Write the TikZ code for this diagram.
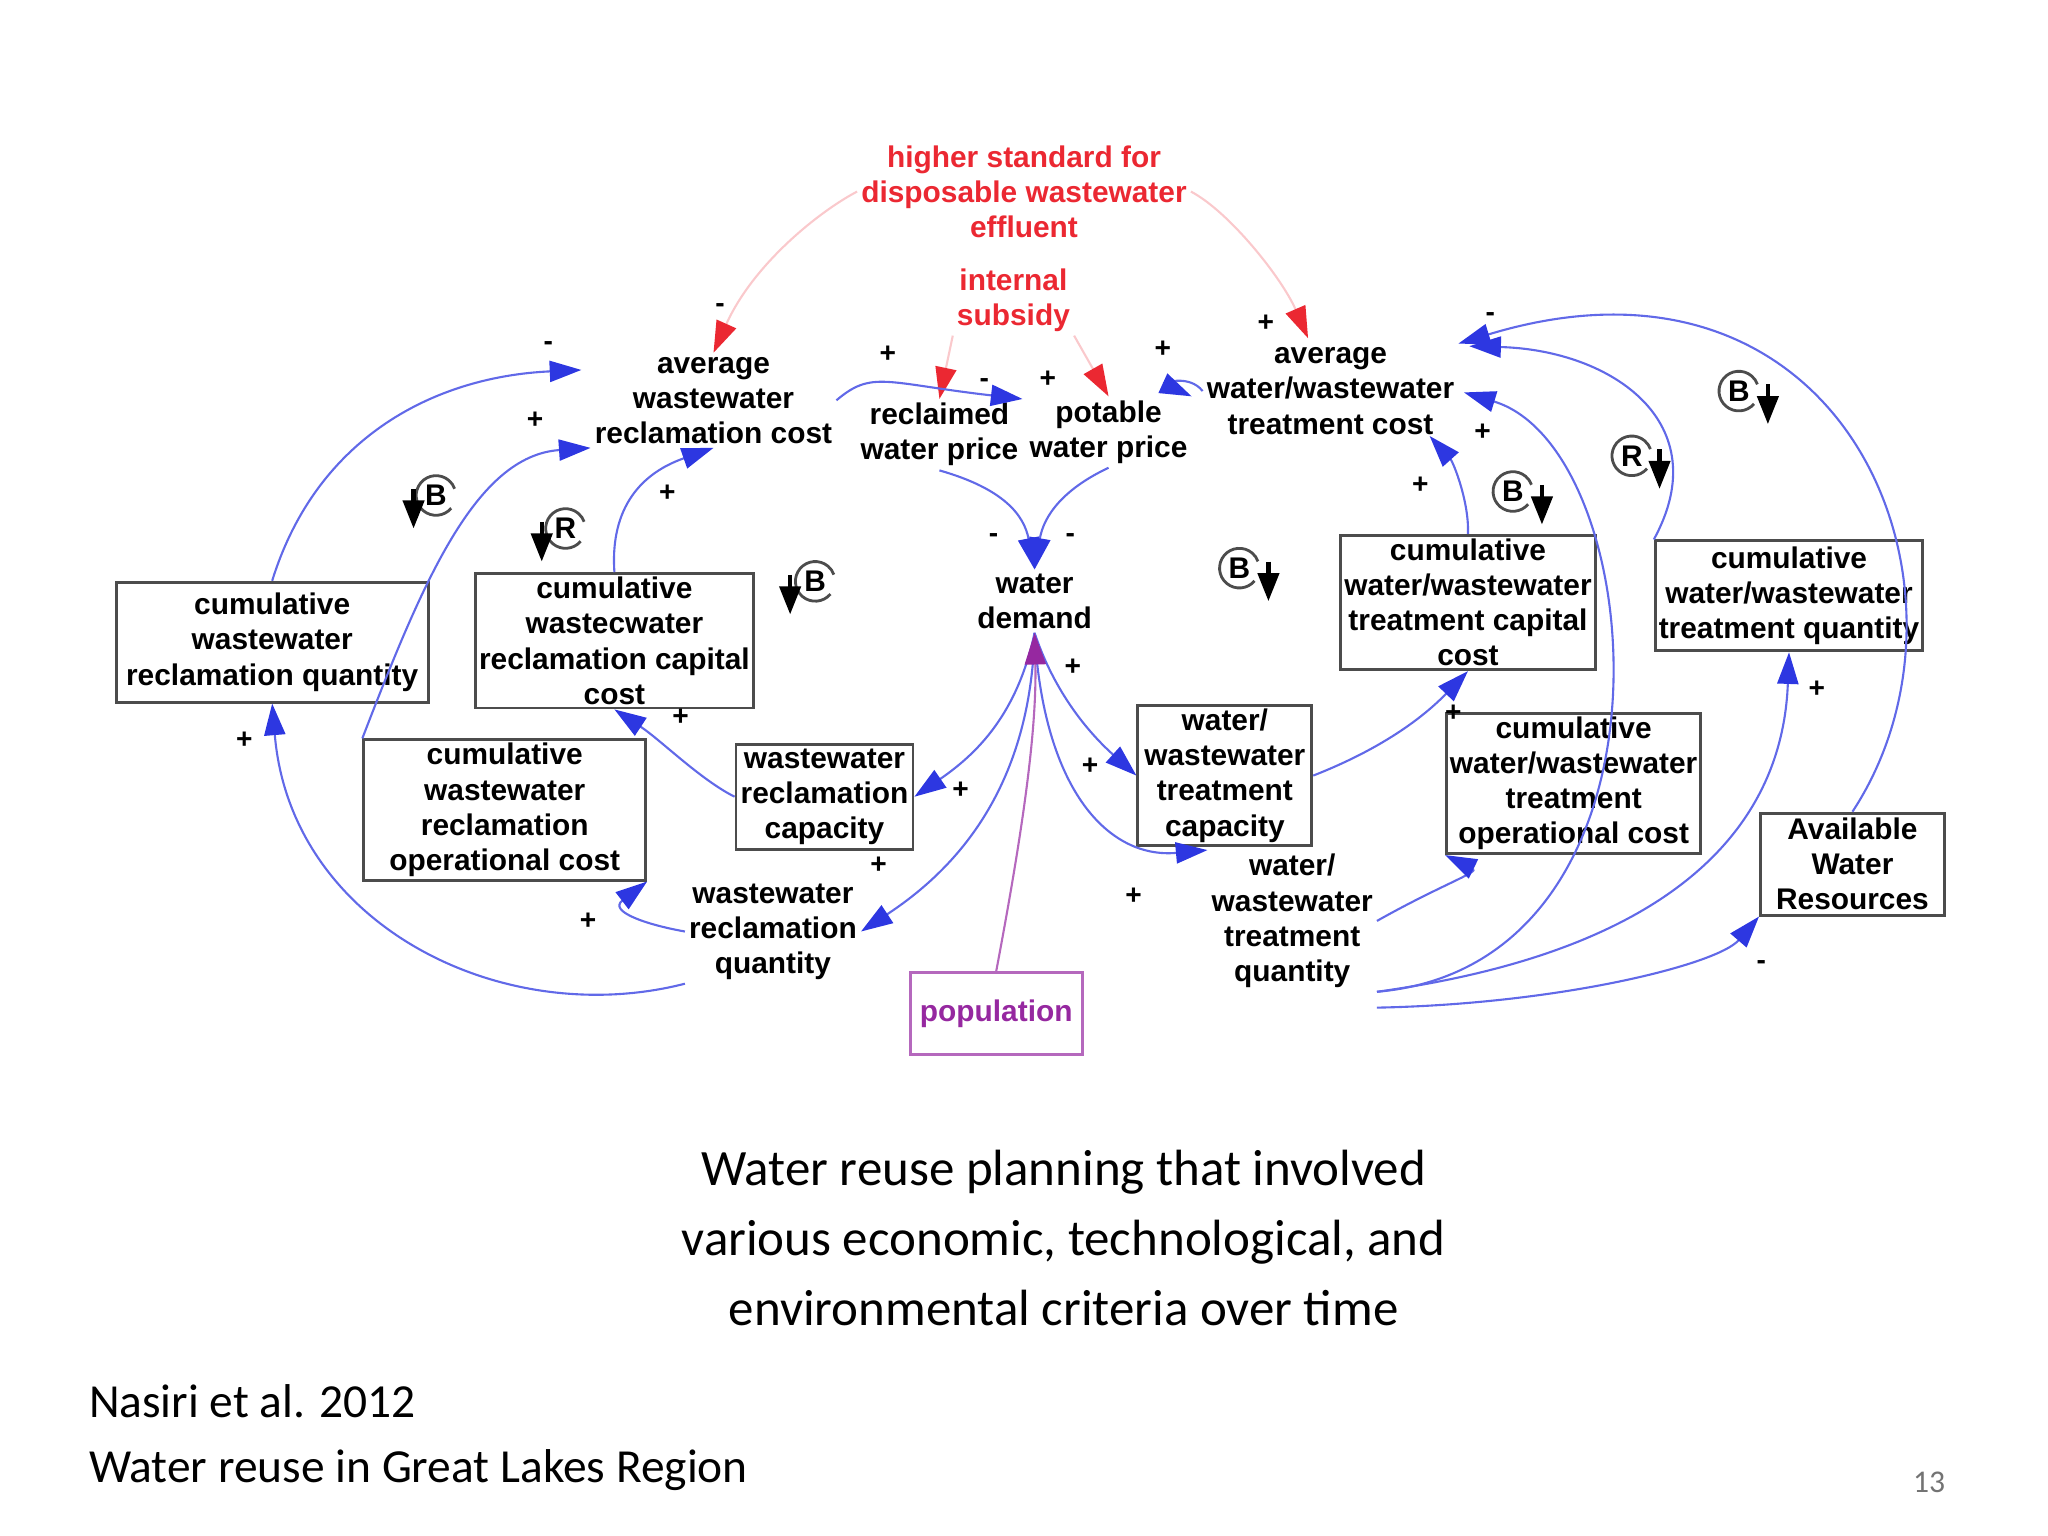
\documentclass[tikz,border=0pt]{standalone}
\usepackage{fontspec}
\setmainfont{Liberation Sans}
\newfontfamily\capfont{Carlito}
\usetikzlibrary{arrows.meta,positioning}
\definecolor{flowblue}{RGB}{45,55,225}
\definecolor{linkred}{RGB}{235,40,50}
\definecolor{popviolet}{RGB}{150,40,160}
\tikzset{%
	every box/.style={
		draw=black!70,
		thick,
		align=center,
		inner sep=1pt,
		font=\fontsize{8.5}{10}\selectfont\bfseries
	},
	var/.style={
		align=center,
		inner sep=1pt,
		font=\fontsize{8.5}{10}\selectfont\bfseries
	},
	flow/.style={
		draw=flowblue!75,
		semithick,
		-{Triangle[length=9pt,width=6pt,color=flowblue]}
	},
	redlink/.style={
		draw=linkred!25,
		semithick,
		-{Triangle[length=9pt,width=6pt,color=linkred]}
	},
	sign/.style={
		font=\fontsize{8}{8}\selectfont\bfseries,
		inner sep=0pt
	},
}
% loop marker: position, letter, arrow offset
\newcommand{\loopmark}[3]{%
	\draw[black!70, thick] (#1) ++(40:15) arc (40:340:15);
	\node[var] at (#1) {#2};
	\draw[-{Triangle[length=8pt,width=6pt]}, very thick] (#1) ++(#3,-5) -- ++(0,30);
}

\begin{document}
\begin{tikzpicture}[x=0.013213cm, y=-0.013213cm]
	\useasboundingbox (0,0) rectangle (1550,1162);

	% red drivers
	\node [var, text=linkred] (std) at (775,145) {higher standard for\\disposable wastewater\\effluent};
	\node [var, text=linkred] (subsidy) at (767,227) {internal\\subsidy};

	% costs and prices
	\node [var] (awrc) at (540,303) {average\\wastewater\\reclamation cost};
	\node [var] (rwp) at (711,329) {reclaimed\\water price};
	\node [var] (pwp) at (839,327) {potable\\water price};
	\node [var] (awtc) at (1007,296) {average\\water/wastewater\\treatment cost};
	\node [var] (wd) at (783,455) {water\\demand};
	\node [var] (wrq) at (585,705) {wastewater\\reclamation\\quantity};
	\node [var] (wtq) at (978,697) {water/\\wastewater\\treatment\\quantity};

	% stocks
	\node [every box, minimum width=3.12cm, minimum height=1.2cm] (cwrq) at (206,486) {cumulative\\wastewater\\reclamation quantity};
	\node [every box, minimum width=2.75cm, minimum height=1.24cm] (cwrcc) at (465,485) {cumulative\\wastecwater\\reclamation capital\\cost};
	\node [every box, minimum width=2.82cm, minimum height=1.24cm] (cwrop) at (382,613) {cumulative\\wastewater\\reclamation\\operational cost};
	\node [every box, minimum width=1.77cm, minimum height=1.05cm] (wrcap) at (624,603) {wastewater\\reclamation\\capacity};
	\node [every box, draw=popviolet!70, text=popviolet, minimum width=1.72cm, minimum height=0.82cm] (pop) at (754,767) {population};
	\node [every box, minimum width=1.74cm, minimum height=1.3cm] (wtcap) at (927,587) {water/\\wastewater\\treatment\\capacity};
	\node [every box, minimum width=2.45cm, minimum height=1.26cm] (cwtcc) at (1111,456) {cumulative\\water/wastewater\\treatment capital\\cost};
	\node [every box, minimum width=2.5cm, minimum height=1.18cm] (cwtop) at (1191,593) {cumulative\\water/wastewater\\treatment\\operational cost};
	\node [every box, minimum width=2.62cm, minimum height=1.1cm] (cwtq) at (1354,451) {cumulative\\water/wastewater\\treatment quantity};
	\node [every box, minimum width=1.84cm, minimum height=1.02cm] (awr) at (1402,654) {Available\\Water\\Resources};

	% red links
	\draw [redlink] (std.west) .. controls (620,160) and (570,200) .. (awrc.north);
	\draw [redlink] (std.east) .. controls (930,160) and (970,210) .. (990,256);
	\draw [redlink] (subsidy.south west) -- (rwp.north);
	\draw [redlink] (subsidy.south east) -- (pwp.north);

	% left side flows
	\draw [flow] (cwrq.north) .. controls (240,330) and (330,285) .. (440,280);
	\draw [flow] (cwrop.north west) .. controls (320,440) and (360,345) .. (awrc.south west);
	\draw [flow] (cwrcc.north) .. controls (462,390) and (480,360) .. (awrc.south);
	\draw [flow] (wrcap.west) .. controls (530,590) and (500,560) .. (cwrcc.south);
	\draw [flow] (wrq.south west) .. controls (380,780) and (220,700) .. (cwrq.south);
	\draw [flow] (wrq.west) .. controls (490,700) and (460,690) .. (cwrop.south east);
	\draw [flow] (wd.south) .. controls (770,540) and (740,570) .. (wrcap.east);
	\draw [flow] (wd.south) .. controls (780,600) and (720,660) .. (wrq.east);

	% prices and demand
	\draw [flow] (awrc.east) .. controls (660,280) and (670,290) .. (rwp.north east);
	\draw [flow] (rwp.south) .. controls (760,370) and (775,390) .. (wd.north);
	\draw [flow] (pwp.south) .. controls (805,370) and (790,390) .. (wd.north);
	\draw [flow] (awtc.west) .. controls (900,283) and (880,290) .. (pwp.north east);

	% right side flows
	\draw [flow] (wd.south) .. controls (800,530) and (830,560) .. (wtcap.west);
	\draw [flow] (wd.south) .. controls (790,600) and (840,650) .. (wtq.north west);
	\draw [draw=popviolet!70, semithick, -{Triangle[length=9pt,width=6pt,color=popviolet]}] (pop.north) .. controls (770,650) and (785,560) .. (wd.south);
	\draw [flow] (wtcap.east) .. controls (1050,565) and (1080,540) .. (cwtcc.south);
	\draw [flow] (cwtcc.north) .. controls (1112,380) and (1100,350) .. (1082,330);
	\draw [flow] (wtq.east) .. controls (1090,670) and (1120,660) .. (cwtop.south west);
	\draw [flow] (wtq.south east) .. controls (1280,730) and (1250,340) .. (1108,297);
	\draw [flow] (wtq.south east) .. controls (1300,715) and (1350,600) .. (cwtq.south);
	\draw [flow] (wtq.south east) ++(0,12) .. controls (1180,760) and (1300,730) .. (awr.south west);
	\draw [flow] (cwtq.north west) .. controls (1300,320) and (1220,265) .. (1112,262);
	\draw [flow] (awr.north) .. controls (1510,450) and (1400,170) .. (awtc.north east);

	% polarities
	\foreach \px/\py/\s in {415/262/-, 405/318/+, 505/373/+, 515/543/+, 185/560/+, 445/697/+,
		727/598/+, 665/655/+, 825/580/+, 858/678/+, 812/505/+, 672/268/+, 752/407/-,
		810/407/-, 880/264/+, 1100/540/+, 1075/367/+, 1122/327/+, 1333/730/-,
		1128/240/-, 1375/522/+, 545/233/-, 958/245/+, 745/290/-, 793/287/+}
	\node [sign] at (\px,\py) {\s};

	% loop markers
	\loopmark{330,375}{B}{-17}
	\loopmark{428,400}{R}{-18}
	\loopmark{617,440}{B}{-19}
	\loopmark{938,430}{B}{22}
	\loopmark{1145,372}{B}{22}
	\loopmark{1235,345}{R}{21}
	\loopmark{1316,296}{B}{22}

	% captions
	\node [font=\capfont\fontsize{14.5}{20}\selectfont, align=center] (title) at (805,937) {Water reuse planning that involved\\various economic, technological, and\\environmental criteria over time};
	\node [font=\capfont\fontsize{13.5}{18.5}\selectfont, align=left, anchor=west] (ref) at (58,1088) {Nasiri et al. 2012\\Water reuse in Great Lakes Region};
	\node [font=\capfont\fontsize{9}{10}\selectfont, text=black!55] (page) at (1460,1122) {13};
\end{tikzpicture}
\end{document}
